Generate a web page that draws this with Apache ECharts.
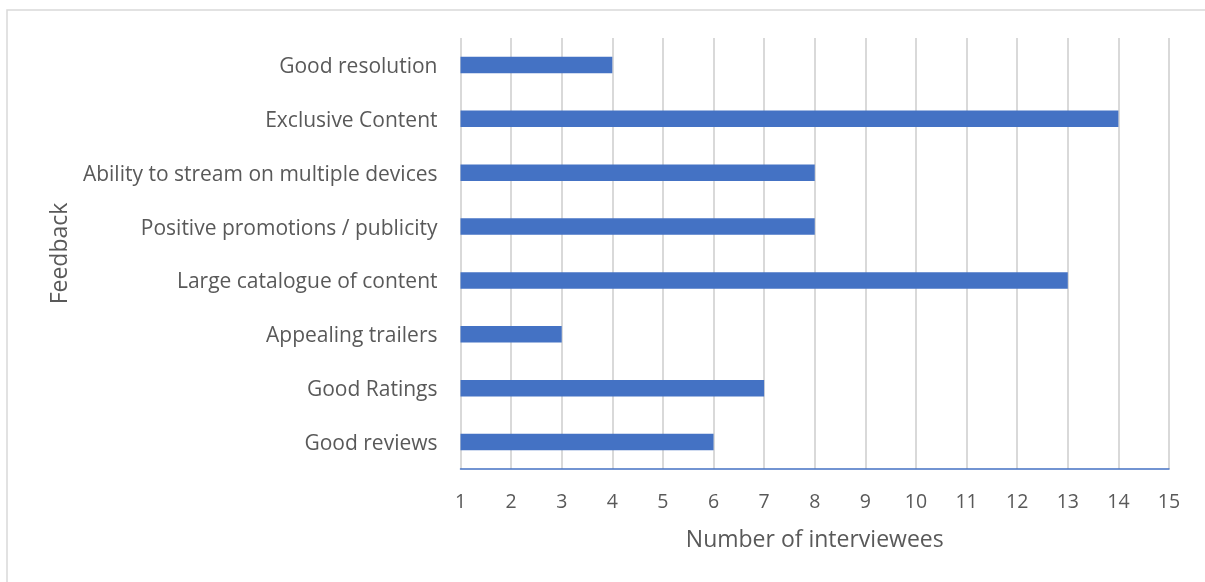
<!DOCTYPE html>
<html><head><meta charset="utf-8">
<script src="https://cdn.jsdelivr.net/npm/echarts@6/dist/echarts.min.js"></script>
<style>html,body{margin:0;padding:0;background:#fff}#c{width:1205px;height:582px}</style>
</head><body><div id="c"></div>
<script>
const categories = ['Good reviews','Good Ratings','Appealing trailers','Large catalogue of content','Positive promotions / publicity','Ability to stream on multiple devices','Exclusive Content','Good resolution'];
const values = [6, 7, 3, 13, 8, 8, 14, 4];
const xTicks = [1, 15, 1];
const chart = echarts.init(document.getElementById('c'), null, {renderer:'canvas'});
const FONT = 'Open Sans';
chart.setOption({
  animation: false,
  backgroundColor: '#fff',
  graphic: [{type:'rect', shape:{x:7,y:10,width:1200,height:600}, style:{fill:'none', stroke:'#d9d9d9', lineWidth:1.5}, silent:true}],
  grid: {left: 460.5, right: 36, top: 38, bottom: 113},
  xAxis: {
    type: 'value', min: xTicks[0], max: xTicks[1], interval: xTicks[2],
    name: 'Number of interviewees', nameLocation: 'middle', nameGap: 60,
    nameTextStyle: {fontFamily: FONT, fontSize: 23, color: '#595959'},
    axisLine: {show: true, lineStyle: {color: '#4472C4', width: 1.5}},
    axisTick: {show: false},
    axisLabel: {fontFamily: FONT, fontSize: 19.5, color: '#595959', margin: 23},
    splitLine: {show: true, lineStyle: {color: '#d9d9d9', width: 2}}
  },
  yAxis: {
    type: 'category', data: categories,
    name: 'Feedback', nameLocation: 'middle', nameGap: 389, nameRotate: 90,
    nameTextStyle: {fontFamily: FONT, fontSize: 23, color: '#595959'},
    axisLine: {show: false}, axisTick: {show: false},
    axisLabel: {
      fontFamily: FONT, fontSize: 21, color: '#595959', margin: 23,
      formatter: function (v) { return '{a|' + v + '}'; },
      rich: {a: {fontFamily: FONT, fontSize: 21, color: '#595959', padding: [4, 0, 0, 0]}}
    }
  },
  series: [{
    type: 'bar', data: values, barWidth: 16.5,
    itemStyle: {color: '#4472C4'}
  }]
});
</script></body></html>
